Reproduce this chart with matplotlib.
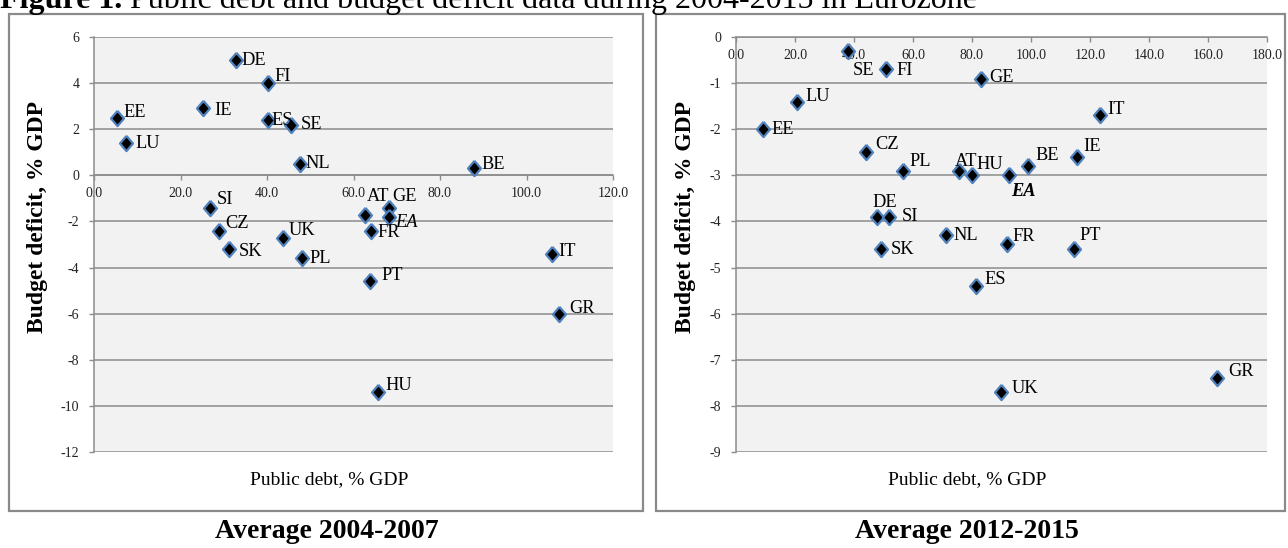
"""Public debt vs budget deficit, Eurozone, two period averages (2004-07, 2012-15)."""
import matplotlib
matplotlib.use("Agg")
import matplotlib.pyplot as plt
from matplotlib.patches import Rectangle

W, H = 1288, 548
DPI = 100

# Average 2004-2007
countries_0407 = ["DE", "FI", "EE", "IE", "ES", "SE", "LU", "NL", "BE", "SI", "CZ",
                  "SK", "UK", "PL", "AT", "GE", "EA", "FR", "PT", "IT", "GR", "HU"]
debt_0407 = [32.8, 40.2, 5.3, 25.2, 40.2, 45.5, 7.5, 47.6, 87.8, 26.8, 28.8,
             31.1, 43.6, 48.2, 62.6, 68.3, 68.1, 64.0, 63.8, 105.8, 107.6, 65.7]
deficit_0407 = [5.0, 4.0, 2.5, 2.9, 2.4, 2.2, 1.4, 0.5, 0.3, -1.4, -2.4,
                -3.2, -2.7, -3.6, -1.7, -1.4, -1.8, -2.4, -4.6, -3.4, -6.0, -9.4]

# Average 2012-2015
countries_1215 = ["SE", "FI", "LU", "EE", "CZ", "PL", "AT", "DE", "SI", "SK", "NL",
                  "GE", "IT", "IE", "BE", "HU", "EA", "FR", "PT", "ES", "UK", "GR"]
debt_1215 = [38.0, 50.8, 20.7, 9.2, 44.1, 56.5, 75.6, 47.8, 51.8, 49.2, 71.2,
             83.1, 123.4, 115.6, 99.1, 80.0, 92.5, 91.9, 114.6, 81.2, 89.7, 163.2]
deficit_1215 = [-0.3, -0.7, -1.4, -2.0, -2.5, -2.9, -2.9, -3.9, -3.9, -4.6, -4.3,
                -0.9, -1.7, -2.6, -2.8, -3.0, -3.0, -4.5, -4.6, -5.4, -7.7, -7.4]

# label offsets in pixels (dx right, dy up)
OFFS_0407 = {"DE": (6, 0), "FI": (7, 7), "EE": (6, 5), "IE": (11, -2), "ES": (4, 0),
             "SE": (10, 0), "LU": (9, 0), "NL": (6, 0), "BE": (8, 4), "SI": (7, 8),
             "CZ": (7, 7), "SK": (10, -2), "UK": (6, 7), "PL": (7, 0), "AT": (2, 18),
             "GE": (3, 11), "EA": (7, -6), "FR": (7, -2), "PT": (11, 6), "IT": (7, 2),
             "GR": (10, 5), "HU": (7, 7)}
OFFS_1215 = {"SE": (5, -20), "FI": (11, -1), "LU": (8, 5), "EE": (8, 0), "CZ": (9, 8),
             "PL": (7, 9), "AT": (-4, 9), "DE": (-5, 14), "SI": (13, 0), "SK": (10, 0),
             "NL": (7, 0), "GE": (8, 1), "IT": (7, 6), "IE": (6, 10), "BE": (7, 11),
             "HU": (4, 11), "EA": (2, -16), "FR": (5, 8), "PT": (5, 14), "ES": (9, 6),
             "UK": (11, 4), "GR": (11, 7)}

GRID = "#8c8c8c"
BG = "#f2f2f2"
EDGE = "#4f81bd"

plt.rcParams["font.family"] = "serif"
plt.rcParams["font.serif"] = ["Liberation Serif", "DejaVu Serif"]
plt.rcParams["axes.unicode_minus"] = False

fig = plt.figure(figsize=(W / DPI, H / DPI), dpi=DPI)


def fx(px):
    return px / W


def fy(py):
    return 1 - py / H


DIAMOND = [(0, 1), (0.85, 0), (0, -1), (-0.85, 0), (0, 1)]


def panel(x0, x1, y0, y1, debt, deficit, names, offs, xmax, ymin, ymax, ystep, ea_bold):
    ax = fig.add_axes([fx(x0), fy(y1), fx(x1 - x0), (y1 - y0) / H])
    ax.set_facecolor(BG)
    ax.set_xlim(0, xmax)
    ax.set_ylim(ymin, ymax)
    ax.set_yticks(range(ymin, ymax + 1, ystep))
    xt = list(range(0, xmax + 1, 20))
    ax.set_xticks(xt)
    ax.set_xticklabels([f"{v:.1f}" for v in xt])
    ax.grid(axis="y", color=GRID, lw=1.1)
    ax.set_axisbelow(True)
    for s in ("top", "right"):
        ax.spines[s].set_visible(False)
    ax.spines["left"].set_color(GRID)
    ax.spines["bottom"].set_color(GRID)
    ax.spines["left"].set_linewidth(1.1)
    ax.spines["bottom"].set_linewidth(1.1)
    ax.spines["bottom"].set_position(("data", 0))
    ax.tick_params(direction="out", length=3.5, width=1, color=GRID,
                   labelsize=10, labelcolor="#222222", pad=5)
    ax.tick_params(axis="y", pad=7)

    ax.plot(debt, deficit, linestyle="none", marker=DIAMOND, markersize=11,
            markerfacecolor="black", markeredgecolor=EDGE, markeredgewidth=1.6,
            zorder=3)
    for x, y, n in zip(debt, deficit, names):
        dx, dy = offs[n]
        kw = {}
        if n == "EA":
            kw["style"] = "italic"
            if ea_bold:
                kw["weight"] = "bold"
        ax.annotate(n, (x, y), xytext=(dx * 0.72, dy * 0.72), textcoords="offset points",
                    ha="left", va="center", fontsize=13.2, color="black", zorder=4, **kw)
    return ax


panel(94, 613, 37, 452, debt_0407, deficit_0407, countries_0407, OFFS_0407,
      120, -12, 6, 2, False)
panel(736, 1267, 37, 452, debt_1215, deficit_1215, countries_1215, OFFS_1215,
      180, -9, 0, 1, True)

# chart frames
for bx0, bx1 in ((9, 643), (656, 1285)):
    fig.add_artist(Rectangle((fx(bx0), fy(511)), fx(bx1 - bx0), (511 - 14) / H,
                             transform=fig.transFigure, facecolor="none",
                             edgecolor="#8a8a8a", lw=1.6, zorder=0))

# axis titles
for cx in (38, 685):
    fig.text(fx(cx), fy(217), "Budget deficit, % GDP", rotation=90, ha="center",
             va="center", fontsize=17, weight="bold")
for cx in (329, 967):
    fig.text(fx(cx), fy(480), "Public debt, % GDP", ha="center", va="center", fontsize=14)

fig.text(fx(327), fy(532), "Average 2004-2007", ha="center", va="center",
         fontsize=20, weight="bold")
fig.text(fx(967), fy(532), "Average 2012-2015", ha="center", va="center",
         fontsize=20, weight="bold")

# figure caption, cut off at the top like the source
t1 = fig.text(fx(0), fy(8), "Figure 1.", ha="left", va="baseline", fontsize=23, weight="bold")
fig.canvas.draw()
bb = t1.get_window_extent()
fig.text(bb.x1 / W, fy(8), " Public debt and budget deficit data during 2004-2015 in Eurozone",
         ha="left", va="baseline", fontsize=23)

fig.savefig("out.png", dpi=DPI)
